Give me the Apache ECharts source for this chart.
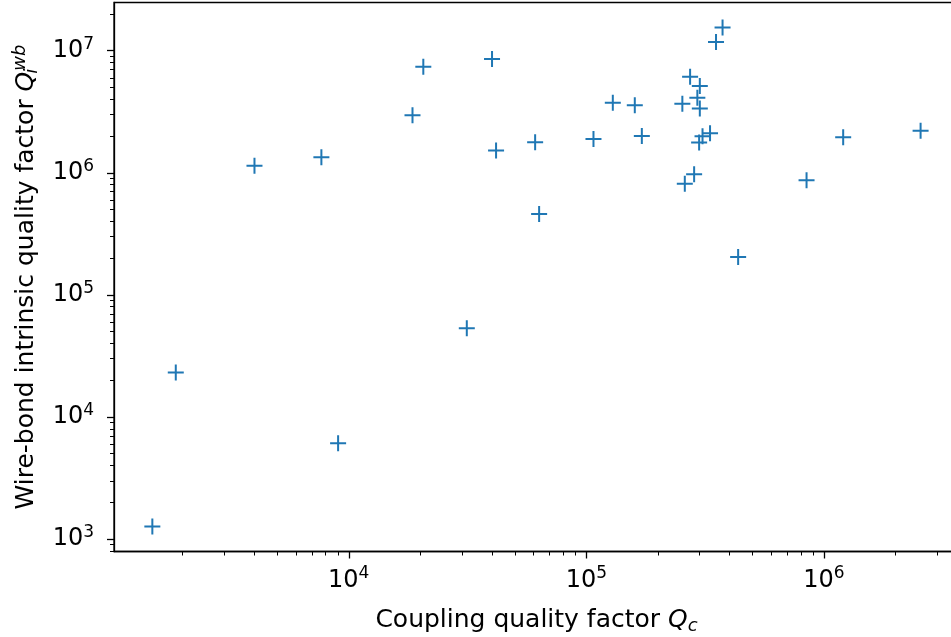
<!DOCTYPE html>
<html>
<head>
<meta charset="utf-8">
<script src="https://cdn.jsdelivr.net/npm/echarts@6/dist/echarts.min.js"></script>
<style>
  html, body { margin: 0; padding: 0; background: #fff; overflow: hidden; }
  /* the original figure is cut off at the right edge, so the chart is a bit wider than the window */
  #main { width: 960px; height: 637px; }
</style>
</head>
<body>
<div id="main"></div>
<script>
// coupling quality factor Qc (x) and wire-bond intrinsic Qi (y)
var qc = [1490, 1870, 4010, 7670, 9020, 18550, 20600, 31400, 40100, 41700,
          60900, 63300, 107200, 129300, 160000, 171300, 253700, 259800, 273500, 284400,
          293400, 298500, 300500, 300500, 308500, 331800, 351600, 374600, 435700, 845600,
          1206000, 2554000];
var qi = [1265, 23100, 1.14e6, 1.34e6, 6090, 2.96e6, 7.40e6, 53300, 8.55e6, 1.52e6,
          1.78e6, 4.60e5, 1.89e6, 3.75e6, 3.57e6, 2.00e6, 3.67e6, 8.13e5, 6.12e6, 9.72e5,
          4.12e6, 1.77e6, 5.14e6, 3.36e6, 1.99e6, 2.11e6, 1.178e7, 1.549e7, 2.04e5, 8.68e5,
          1.95e6, 2.21e6];
var xTicks = [1e4, 1e5, 1e6];
var yTicks = [1e3, 1e4, 1e5, 1e6, 1e7];

var font = 'DejaVu Sans';
var plus = 'path://M7,0H9V7H16V9H9V16H7V9H0V7H7Z';

function powLabel(v) {
    var e = Math.round(Math.log10(v));
    if (Math.abs(Math.log10(v) - e) > 1e-6) return '';
    return '{b|10}{s|' + e + '}';
}
var labelRich = {
    b: { fontFamily: font, fontSize: 24, color: '#000', lineHeight: 30 },
    s: { fontFamily: font, fontSize: 17, color: '#000', verticalAlign: 'top', lineHeight: 17 }
};

var points = [];
for (var i = 0; i < qc.length; i++) points.push([qc[i], qi[i]]);

var myChart = echarts.init(document.getElementById('main'));
var option = {
    animation: false,
    grid: {
        left: 114, top: 2.5, bottom: 85.5, right: 1,
        outerBoundsMode: 'none', containLabel: false,
        show: true, borderColor: '#000', borderWidth: 1.3
    },
    xAxis: {
        type: 'log',
        logBase: 10,
        min: 1027.5,
        max: 3.706e6,
        splitLine: { show: false },
        axisLine: { show: true, lineStyle: { color: '#000', width: 1.3 } },
        axisTick: { show: true, length: 7, lineStyle: { color: '#000', width: 1.3 }, customValues: xTicks },
        minorTick: { show: true, splitNumber: 9, length: 4, lineStyle: { color: '#000', width: 1 } },
        axisLabel: { margin: 14, formatter: powLabel, rich: labelRich, customValues: xTicks },
        name: 'Coupling quality factor {i|Q}{sub|c}',
        nameLocation: 'middle',
        nameGap: 54,
        nameTextStyle: {
            fontFamily: font, fontSize: 25, color: '#000',
            rich: {
                i: { fontFamily: font, fontSize: 25, fontStyle: 'italic', color: '#000' },
                sub: { fontFamily: font, fontSize: 18, fontStyle: 'italic', color: '#000', verticalAlign: 'bottom', padding: [12, 0, 0, 0] }
            }
        }
    },
    yAxis: {
        type: 'log',
        logBase: 10,
        min: 790,
        max: 2.481e7,
        splitLine: { show: false },
        axisLine: { show: true, lineStyle: { color: '#000', width: 1.3 } },
        axisTick: { show: true, length: 7, lineStyle: { color: '#000', width: 1.3 }, customValues: yTicks },
        minorTick: { show: true, splitNumber: 9, length: 4, lineStyle: { color: '#000', width: 1 } },
        axisLabel: { margin: 20, formatter: powLabel, rich: labelRich, customValues: yTicks },
        name: 'Wire-bond intrinsic quality factor {i|Q}{sub|i}{sup|wb}',
        nameLocation: 'middle',
        nameGap: 73,
        nameTextStyle: {
            fontFamily: font, fontSize: 25, color: '#000',
            rich: {
                i: { fontFamily: font, fontSize: 25, fontStyle: 'italic', color: '#000' },
                sub: { fontFamily: font, fontSize: 18, fontStyle: 'italic', color: '#000', verticalAlign: 'bottom', padding: [12, 0, 0, 0], width: 1 },
                sup: { fontFamily: font, fontSize: 18, fontStyle: 'italic', color: '#000', verticalAlign: 'top', padding: [0, 0, 12, 0] }
            }
        }
    },
    series: [{
        type: 'scatter',
        data: points,
        symbol: plus,
        symbolSize: 16,
        itemStyle: { color: '#1f77b4', opacity: 1 }
    }]
};
myChart.setOption(option);
</script>
</body>
</html>
